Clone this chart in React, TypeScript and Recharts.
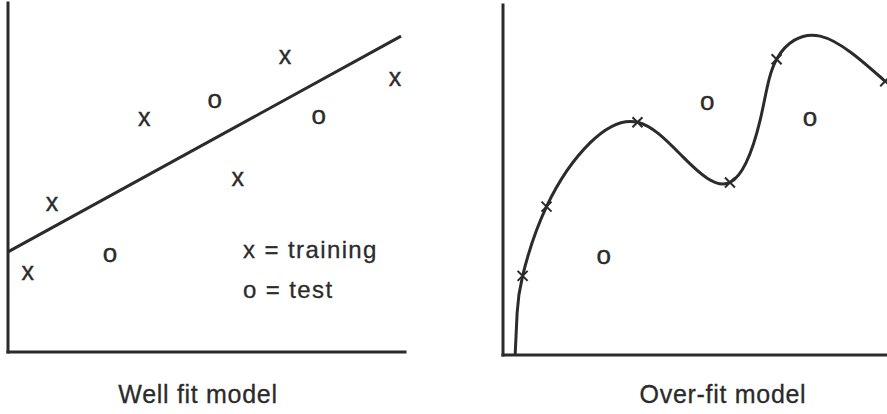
import React from "react";
import { ComposedChart, Scatter, Line, XAxis, YAxis, ReferenceLine } from "recharts";

// shared sample points (same data in both panels)
const trainX = [0.5, 1.11, 3.43, 5.79, 6.98, 9.75];
const trainY = [2.26, 4.24, 6.65, 4.93, 8.45, 7.82];
const testX = [2.57, 5.21, 7.83];
const testY = [2.78, 7.19, 6.73];

// straight fit (left) and wiggly over-fit curve (right)
const fitX = [0, 9.9];
const fitY = [2.87, 9.05];
const overX = [0.31, 0.36, 0.5, 1.11, 2.22, 3.43, 4.59, 5.79, 6.56, 6.98, 8.09, 9.75];
const overY = [0, 1.2, 2.26, 4.24, 6.06, 6.65, 5.66, 4.93, 6.71, 8.45, 9.11, 7.82];

const titles = ["Well fit model", "Over-fit model"];
const legendLines = ["x = training", "o = test"];

const INK = "#2b2b2b";
const FONT = "'Liberation Sans', Arial, Helvetica, sans-serif";

const toPoints = (xs: number[], ys: number[]) => xs.map((x, i) => ({ x, y: ys[i] }));
const train = toPoints(trainX, trainY);
const test = toPoints(testX, testY);
const fit = toPoints(fitX, fitY);
const over = toPoints(overX, overY);

const Glyph = (ch: string, size: number) => (props: any) => {
  const { cx, cy } = props;
  if (cx == null || cy == null) return <g />;
  return (
    <text
      x={cx}
      y={cy + size * 0.26}
      textAnchor="middle"
      fontSize={size}
      fontFamily={FONT}
      fill={INK}
      stroke={INK}
      strokeWidth={0.4}
    >
      {ch}
    </text>
  );
};

const Cross = (props: any) => {
  const { cx, cy } = props;
  if (cx == null || cy == null) return <g />;
  const r = 5;
  return (
    <g stroke={INK} strokeWidth={2}>
      <line x1={cx - r} y1={cy - r} x2={cx + r} y2={cy + r} />
      <line x1={cx - r} y1={cy + r} x2={cx + r} y2={cy - r} />
    </g>
  );
};

function Panel({ left, plotW, plotH, mTop, mLeft, overfit }: any) {
  const w = 420;
  const h = 400;
  return (
    <div style={{ position: "absolute", left, top: 0 }}>
      <ComposedChart
        width={w}
        height={h}
        margin={{ top: mTop, left: mLeft, right: w - mLeft - plotW, bottom: h - mTop - plotH }}
      >
        <XAxis type="number" dataKey="x" domain={[0, 10]} hide />
        <YAxis type="number" dataKey="y" domain={[0, 10]} hide />
        <ReferenceLine x={0} stroke={INK} strokeWidth={3} strokeLinecap="square" />
        <ReferenceLine y={0} stroke={INK} strokeWidth={3} strokeLinecap="square" />
        {overfit ? (
          <Line data={over} dataKey="y" type="natural" stroke={INK} strokeWidth={3} dot={false} isAnimationActive={false} />
        ) : (
          <Line data={fit} dataKey="y" type="linear" stroke={INK} strokeWidth={3} dot={false} isAnimationActive={false} />
        )}
        <Scatter data={train} shape={overfit ? Cross : Glyph("x", 25)} isAnimationActive={false} />
        <Scatter data={test} shape={Glyph("o", 26)} isAnimationActive={false} />
      </ComposedChart>
    </div>
  );
}

export default function App() {
  return (
    <div
      style={{
        position: "fixed",
        left: 0,
        top: 0,
        width: 887,
        height: 414,
        overflow: "hidden",
        background: "#fff",
      }}
    >
      <Panel left={0} plotW={397} plotH={349} mTop={3} mLeft={8} overfit={false} />
      <Panel left={490} plotW={392} plotH={350} mTop={5} mLeft={13} overfit={true} />
      <svg width={887} height={414} style={{ position: "absolute", left: 0, top: 0, pointerEvents: "none" }}>
        <g fontFamily={FONT} fill={INK}>
          {legendLines.map((t, i) => (
            <text key={t} x={243} y={258 + i * 40} fontSize={24} letterSpacing={1.4} stroke={INK} strokeWidth={0.3}>
              {t}
            </text>
          ))}
          <text x={198} y={403} textAnchor="middle" fontSize={25} letterSpacing={0.7} stroke={INK} strokeWidth={0.3}>
            {titles[0]}
          </text>
          <text x={723} y={403} textAnchor="middle" fontSize={25} letterSpacing={0.7} stroke={INK} strokeWidth={0.3}>
            {titles[1]}
          </text>
        </g>
      </svg>
    </div>
  );
}
